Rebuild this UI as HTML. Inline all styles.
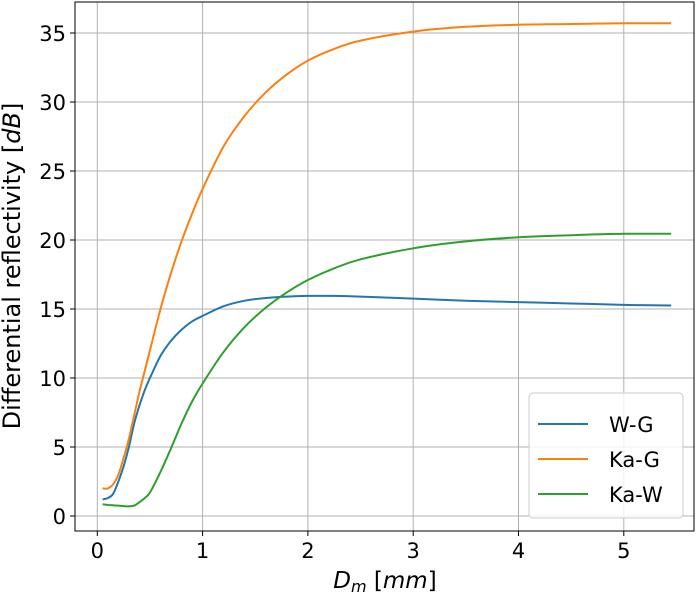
<!DOCTYPE html>
<html><head><meta charset="utf-8"><style>body{margin:0;background:#fff}svg{font-family:"DejaVu Sans","Liberation Sans",sans-serif}</style></head>
<body>
<svg id="c" width="697" height="594"></svg>
<script>
const xs=[0.05,0.1,0.15,0.2,0.25,0.3,0.35,0.4,0.45,0.5,0.6,0.7,0.8,0.9,1.0,1.2,1.4,1.6,1.8,2.0,2.25,2.5,3,3.5,4,4.5,5,5.45];
const wg=[1.2,1.3,1.6,2.5,3.6,5.0,6.7,8.0,9.1,10.0,11.6,12.7,13.5,14.1,14.5,15.2,15.6,15.8,15.9,15.95,15.95,15.9,15.75,15.6,15.5,15.4,15.3,15.25];
const kag=[2.0,2.0,2.3,3.0,4.2,5.6,7.3,9.0,10.5,12.0,15.0,17.6,19.9,21.9,23.7,26.8,29.0,30.7,32.0,33.0,33.85,34.45,35.1,35.45,35.6,35.65,35.7,35.7];
const kaw=[0.85,0.8,0.78,0.75,0.72,0.7,0.75,1.0,1.3,1.7,3.2,4.9,6.7,8.3,9.6,11.9,13.7,15.1,16.2,17.1,17.95,18.6,19.4,19.9,20.2,20.35,20.45,20.45];
const seriesNames=["W-G","Ka-G","Ka-W"];
const xTicks=[0,1,2,3,4,5];
const yTicks=[0,5,10,15,20,25,30,35];
const L=75,R=694,T=2,B=531;
const X=v=>97.3+v*105.3, Y=v=>516-v*13.8;
const svg=document.getElementById('c');const NS='http://www.w3.org/2000/svg';
function el(t,a,p){const e=document.createElementNS(NS,t);for(const k in a)e.setAttribute(k,a[k]);(p||svg).appendChild(e);return e;}
function smooth(pts){let d='M'+pts[0][0].toFixed(1)+' '+pts[0][1].toFixed(1);
 for(let i=0;i<pts.length-1;i++){const p0=pts[i-1]||pts[i],p1=pts[i],p2=pts[i+1],p3=pts[i+2]||p2;
  const c1=[p1[0]+(p2[0]-p0[0])/6,p1[1]+(p2[1]-p0[1])/6],c2=[p2[0]-(p3[0]-p1[0])/6,p2[1]-(p3[1]-p1[1])/6];
  d+='C'+c1.map(v=>v.toFixed(1)).join(' ')+' '+c2.map(v=>v.toFixed(1)).join(' ')+' '+p2[0].toFixed(1)+' '+p2[1].toFixed(1);}
 return d;}
for(const t of xTicks){
 const g=el('line',{x1:X(t),x2:X(t),y1:T,y2:B,stroke:'#b0b0b0','stroke-width':1});
 
 
 el('line',{x1:X(t),x2:X(t),y1:B,y2:B+5,stroke:'#000'});
 const tx=el('text',{x:X(t),y:B+27,'font-size':21,'text-anchor':'middle'});tx.textContent=t;
 
 
}
for(const t of yTicks){
 const g=el('line',{x1:L,x2:R,y1:Y(t),y2:Y(t),stroke:'#b0b0b0','stroke-width':1});
 
 
 el('line',{x1:L-5,x2:L,y1:Y(t),y2:Y(t),stroke:'#000'});
 const tx=el('text',{x:L-9,y:Y(t)+8,'font-size':21,'text-anchor':'end'});tx.textContent=t;
 
 
}
const cols=['#1f77b4','#ff7f0e','#2ca02c'];
[wg,kag,kaw].forEach((s,i)=>{
 const p=el('path',{d:smooth(s.map((v,j)=>[X(xs[j]),Y(v)])),fill:'none',stroke:cols[i],'stroke-width':2});
 
 
});
const fr=el('rect',{x:L,y:T,width:R-L,height:B-T,fill:'none',stroke:'#000','stroke-width':1});


const lg=el('rect',{x:529,y:393,width:154,height:125,rx:4,fill:'#fff','fill-opacity':0.8,stroke:'#ccc'});


seriesNames.forEach((n,i)=>{
 const y=424+i*35;
 el('line',{x1:538,x2:588,y1:y,y2:y,stroke:cols[i],'stroke-width':2});
 const t=el('text',{x:609,y:y+8,'font-size':21});t.textContent=n;
 
 
});
const xt=el('text',{x:385,y:588,'font-size':23,'text-anchor':'middle'});
xt.innerHTML='<tspan font-style="italic">D</tspan><tspan font-style="italic" font-size="16" dy="4">m</tspan><tspan dy="-4"> [</tspan><tspan font-style="italic">mm</tspan>]';


const yt=el('text',{x:0,y:0,'font-size':24,'text-anchor':'middle',transform:'translate(20,266) rotate(-90)'});
yt.innerHTML='Differential reflectivity [<tspan font-style="italic">dB</tspan>]';


</script>
</body></html>
